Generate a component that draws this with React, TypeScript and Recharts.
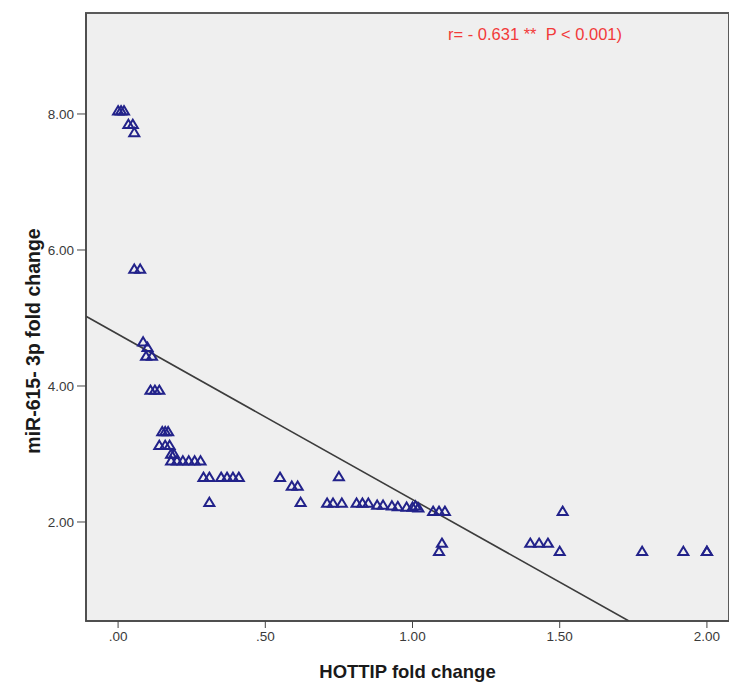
import { ScatterChart, Scatter, XAxis, YAxis, ReferenceLine, ReferenceArea } from "recharts"

// HOTTIP fold change (x) and miR-615-3p fold change (y)
const hottipFold = [
  0.0, 0.01, 0.02, 0.035, 0.05, 0.055, 0.055, 0.075, 0.085, 0.1, 0.095, 0.115,
  0.11, 0.125, 0.14, 0.15, 0.16, 0.17, 0.14, 0.16, 0.175, 0.18, 0.19,
  0.18, 0.2, 0.22, 0.24, 0.26, 0.28, 0.29, 0.31, 0.35, 0.37, 0.39, 0.41, 0.31,
  0.55, 0.59, 0.61, 0.62, 0.75, 0.71, 0.73, 0.76, 0.81, 0.83, 0.85, 0.88, 0.9,
  0.93, 0.95, 0.98, 1.0, 1.01, 1.02, 1.07, 1.09, 1.11, 1.1, 1.09, 1.4, 1.43,
  1.46, 1.51, 1.5, 1.78, 1.92, 2.0, 2.0,
]
const mir615Fold = [
  8.05, 8.05, 8.05, 7.85, 7.85, 7.73, 5.72, 5.72, 4.65, 4.57, 4.44, 4.44,
  3.94, 3.94, 3.94, 3.33, 3.33, 3.33, 3.13, 3.13, 3.13, 3.0, 3.0,
  2.9, 2.9, 2.9, 2.9, 2.9, 2.9, 2.66, 2.66, 2.66, 2.66, 2.66, 2.66, 2.29,
  2.66, 2.53, 2.53, 2.29, 2.67, 2.28, 2.28, 2.28, 2.28, 2.28, 2.28, 2.25, 2.25,
  2.24, 2.23, 2.22, 2.22, 2.24, 2.21, 2.16, 2.16, 2.16, 1.69, 1.57, 1.69, 1.69,
  1.69, 2.16, 1.57, 1.57, 1.57, 1.57, 1.57,
]

const xTicks = [0, 0.5, 1, 1.5, 2]
const yTicks = [2, 4, 6, 8]
const xDomain = [-0.109, 2.075]
const yDomain = [0.544, 9.485]

// linear fit line
const fitIntercept = 4.76
const fitSlope = -2.43

const points = hottipFold.map((x, i) => ({ x, y: mir615Fold[i] }))
const fitEndX = (yDomain[0] - fitIntercept) / fitSlope

const fmtX = (v: number) => (v < 1 ? v.toFixed(2).replace(/^0/, "") : v.toFixed(2))
const fmtY = (v: number) => v.toFixed(2)

const Triangle = (props: any) => {
  const { cx, cy } = props
  if (cx == null || cy == null) return null
  return (
    <polygon
      points={`${cx},${cy - 4.5} ${cx + 5},${cy + 3.8} ${cx - 5},${cy + 3.8}`}
      fill="none"
      stroke="#22228a"
      strokeWidth={2}
    />
  )
}

const font = "'Liberation Sans', Arial, sans-serif"

export default function App() {
  return (
    <div style={{ position: "absolute", left: 0, top: 0, width: 729, height: 684, background: "#fff", fontFamily: font }}>
      <ScatterChart width={729} height={684} margin={{ top: 13, right: 0, bottom: 0, left: 0 }}>
        <ReferenceArea
          x1={xDomain[0]}
          x2={xDomain[1]}
          y1={yDomain[0]}
          y2={yDomain[1]}
          fill="#efefef"
          fillOpacity={1}
          stroke="#5a5a5a"
          strokeWidth={2}
          ifOverflow="visible"
        />
        <XAxis
          type="number"
          dataKey="x"
          domain={xDomain}
          ticks={xTicks}
          tickFormatter={fmtX}
          allowDataOverflow
          height={63}
          tickSize={7}
          tickMargin={3}
          stroke="#444"
          tick={{ fill: "#3a3a3a", fontSize: 13.5, fontFamily: font }}
          label={{
            value: "HOTTIP fold change",
            position: "insideBottom",
            offset: 6,
            fill: "#1a1a1a",
            fontSize: 18.5,
            fontWeight: "bold",
            fontFamily: font,
          }}
        />
        <YAxis
          type="number"
          dataKey="y"
          domain={yDomain}
          ticks={yTicks}
          tickFormatter={fmtY}
          allowDataOverflow
          width={86}
          tickSize={9}
          tickMargin={3}
          stroke="#444"
          tick={{ fill: "#3a3a3a", fontSize: 13.5, fontFamily: font }}
          label={{
            value: "miR-615- 3p fold change",
            angle: -90,
            position: "center",
            dx: -10,
            dy: 24,
            fill: "#1a1a1a",
            fontSize: 19.5,
            fontWeight: "bold",
            fontFamily: font,
          }}
        />
        <ReferenceLine
          segment={[
            { x: xDomain[0], y: fitIntercept + fitSlope * xDomain[0] },
            { x: fitEndX, y: yDomain[0] },
          ]}
          stroke="#3c3c3c"
          strokeWidth={1.6}
          ifOverflow="hidden"
        />
        <Scatter data={points} shape={Triangle} isAnimationActive={false} />
      </ScatterChart>
      <div
        style={{
          position: "absolute",
          left: 448,
          top: 25,
          color: "#f23a3a",
          fontSize: 16.5,
          whiteSpace: "pre",
        }}
      >
        {"r= - 0.631 **  P < 0.001)"}
      </div>
    </div>
  )
}
